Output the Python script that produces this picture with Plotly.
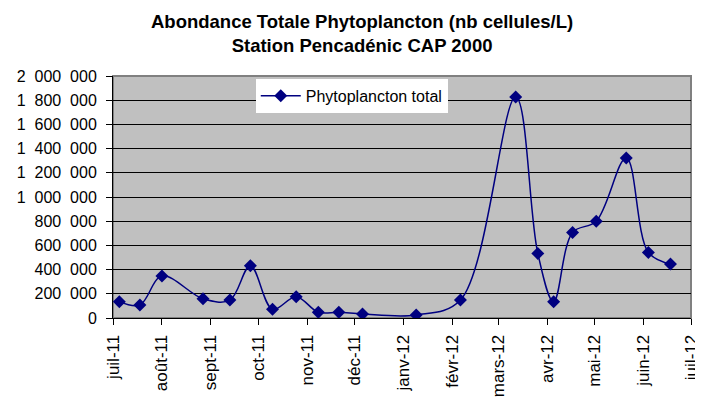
import plotly.graph_objects as go

dates = ["2011-07-05", "2011-07-18", "2011-08-01", "2011-08-27", "2011-09-13",
         "2011-09-26", "2011-10-10", "2011-10-25", "2011-11-08", "2011-11-21",
         "2011-12-06", "2012-01-09", "2012-02-06", "2012-03-12", "2012-03-26",
         "2012-04-05", "2012-04-17", "2012-05-02", "2012-05-21", "2012-06-04",
         "2012-06-18"]
values = [135000, 107000, 347000, 159000, 148000,
          432000, 72000, 176000, 47000, 47000,
          33000, 25000, 148000, 1826000, 534000,
          134000, 707000, 800000, 1323000, 542000,
          446000]

tick_dates = ["2011-07-01", "2011-08-01", "2011-09-01", "2011-10-01", "2011-11-01",
              "2011-12-01", "2012-01-01", "2012-02-01", "2012-03-01", "2012-04-01",
              "2012-05-01", "2012-06-01", "2012-07-01"]
tick_labels = ["juil-11", "août-11", "sept-11", "oct-11", "nov-11", "déc-11",
               "janv-12", "févr-12", "mars-12", "avr-12", "mai-12", "juin-12", "juil-12"]
y_ticks = [0, 200000, 400000, 600000, 800000, 1000000, 1200000, 1400000,
           1600000, 1800000, 2000000]

title_text = "<b>Abondance Totale Phytoplancton (nb cellules/L)<br>Station Pencadénic CAP 2000</b>"

FONT = "Arial, 'Liberation Sans', sans-serif"
NAVY = "#000080"

fig = go.Figure()
fig.add_trace(go.Scatter(
    x=dates, y=values, mode="lines+markers", name="Phytoplancton total",
    line=dict(color=NAVY, width=1.5, shape="spline", smoothing=1.0),
    marker=dict(symbol="diamond", size=10, color=NAVY),
))

fig.update_layout(
    width=695, height=392,
    margin=dict(l=105, r=12, t=68, b=82),
    paper_bgcolor="white", plot_bgcolor="#C0C0C0",
    separators=",\u2007",
    font=dict(family=FONT, size=16, color="black"),
    showlegend=True,
    legend=dict(x=0.247, y=0.988, xanchor="left", yanchor="top",
                bgcolor="white", borderwidth=0, itemwidth=40,
                font=dict(family=FONT, size=16, color="black")),
    xaxis=dict(type="date", range=["2011-07-01", "2012-07-01"],
               tickmode="array", tickvals=tick_dates, ticktext=tick_labels,
               tickangle=-90, ticks="outside", ticklen=6, tickcolor="black",
               ticklabelstandoff=3,
               showgrid=False, showline=True, linecolor="black", linewidth=1,
               zeroline=False, automargin=False, tickfont=dict(family=FONT, size=17)),
    yaxis=dict(range=[0, 2000000], tickmode="array", tickvals=y_ticks,
               tickformat=",d", ticks="outside", ticklen=6, tickcolor="black",
               ticklabelstandoff=6,
               showgrid=True, gridcolor="black", gridwidth=1,
               showline=True, linecolor="black", linewidth=1,
               zeroline=False, automargin=False, tickfont=dict(family=FONT, size=16)),
)

fig.add_annotation(text=title_text, xref="paper", yref="paper", x=0.431, y=1.277,
                   xanchor="center", yanchor="top", showarrow=False,
                   font=dict(family=FONT, size=18.5, color="black"))

fig.add_shape(type="rect", xref="x domain", yref="y domain", x0=0, x1=1, y0=0, y1=1,
              line=dict(color="#808080", width=2), layer="below")

fig.write_html("out.html")
